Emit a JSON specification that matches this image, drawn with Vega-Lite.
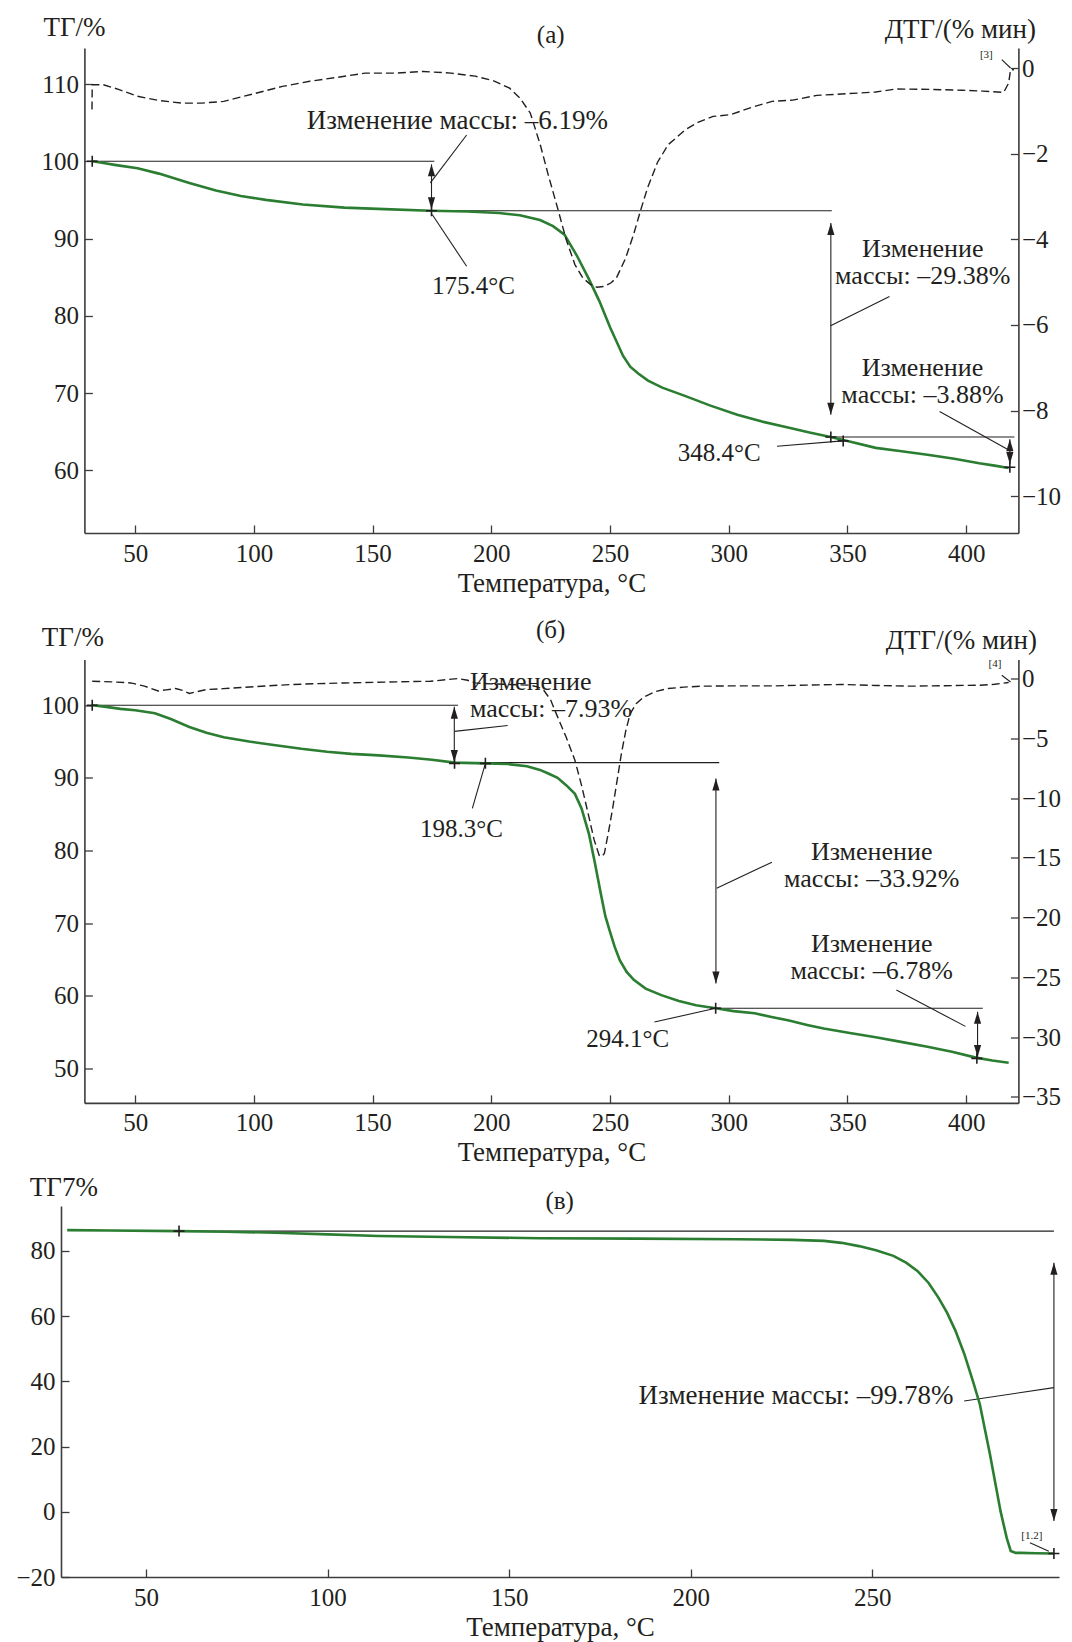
{
  "$schema": "https://vega.github.io/schema/vega-lite/v6.json",
  "background": "white",
  "padding": {"left": 15, "top": 13, "right": 5, "bottom": 5},
  "config": {
    "font": "Liberation Serif",
    "view": {"stroke": null},
    "axis": {"grid": false, "domainColor": "#3c3c3c", "domainWidth": 1.6, "tickColor": "#3c3c3c", "tickWidth": 1.3, "tickSize": -8, "labelFont": "Liberation Serif", "labelFontSize": 25, "labelColor": "#231f20", "titleFont": "Liberation Serif", "titleFontSize": 27, "titleFontWeight": "normal", "titleColor": "#231f20"},
    "axisX": {"labelPadding": 16, "titlePadding": 4},
    "axisLeft": {"labelPadding": 14},
    "axisRight": {"labelPadding": 11}
  },
  "datasets": {
    "tgA": [
      {"T":31.9,"v":100},{"T":36,"v":99.8},{"T":42,"v":99.5},{"T":51,"v":99.1},{"T":60,"v":98.4},{"T":72.8,"v":97.2},{"T":84,"v":96.2},{"T":94.5,"v":95.5},{"T":105,"v":95.0},{"T":120.6,"v":94.4},{"T":138.1,"v":94.0},{"T":155,"v":93.8},{"T":174.3,"v":93.6},{"T":190,"v":93.5},{"T":203.3,"v":93.3},{"T":212,"v":93.0},{"T":220.5,"v":92.4},{"T":226,"v":91.6},{"T":230.8,"v":90.5},{"T":236,"v":87.8},{"T":241,"v":84.8},{"T":245.5,"v":81.9},{"T":250,"v":78.5},{"T":255.5,"v":74.8},{"T":258.5,"v":73.4},{"T":262,"v":72.5},{"T":266,"v":71.6},{"T":272,"v":70.7},{"T":281.8,"v":69.6},{"T":292,"v":68.4},{"T":303.6,"v":67.2},{"T":314,"v":66.3},{"T":325.4,"v":65.5},{"T":334,"v":64.9},{"T":342.9,"v":64.3},{"T":350,"v":63.8},{"T":361.9,"v":62.9},{"T":372,"v":62.5},{"T":383.7,"v":62.0},{"T":395,"v":61.5},{"T":405.5,"v":60.9},{"T":412,"v":60.6},{"T":417.9,"v":60.3}
    ],
    "dtgA": [
      {"T":31.8,"v":-0.97},{"T":31.9,"v":-0.39},{"T":36.5,"v":-0.39},{"T":43,"v":-0.5},{"T":51,"v":-0.66},{"T":60,"v":-0.76},{"T":69.9,"v":-0.82},{"T":78,"v":-0.82},{"T":87.3,"v":-0.78},{"T":100,"v":-0.6},{"T":112,"v":-0.43},{"T":123.5,"v":-0.31},{"T":135,"v":-0.22},{"T":146.8,"v":-0.12},{"T":160,"v":-0.12},{"T":171.4,"v":-0.08},{"T":183,"v":-0.12},{"T":193.2,"v":-0.19},{"T":201,"v":-0.3},{"T":207.7,"v":-0.47},{"T":212,"v":-0.7},{"T":216.4,"v":-1.05},{"T":220.6,"v":-1.79},{"T":224,"v":-2.5},{"T":227.9,"v":-3.27},{"T":231.5,"v":-4.0},{"T":235.2,"v":-4.59},{"T":238.5,"v":-4.9},{"T":241.7,"v":-5.05},{"T":244.5,"v":-5.12},{"T":247.6,"v":-5.10},{"T":250.3,"v":-5.02},{"T":252.7,"v":-4.9},{"T":256.5,"v":-4.45},{"T":259.9,"v":-3.89},{"T":263,"v":-3.3},{"T":265.8,"v":-2.8},{"T":270,"v":-2.2},{"T":274.5,"v":-1.79},{"T":281.8,"v":-1.44},{"T":287,"v":-1.27},{"T":293.4,"v":-1.13},{"T":300.7,"v":-1.09},{"T":309,"v":-0.93},{"T":318.2,"v":-0.78},{"T":326.9,"v":-0.75},{"T":337.1,"v":-0.64},{"T":350,"v":-0.6},{"T":361.9,"v":-0.56},{"T":370.6,"v":-0.49},{"T":385,"v":-0.5},{"T":398.3,"v":-0.52},{"T":407,"v":-0.54},{"T":415.8,"v":-0.57},{"T":417.9,"v":-0.35},{"T":418.7,"v":-0.04},{"T":420.1,"v":-0.04}
    ],
    "segA": [
      {"T":31.9,"v":100,"T2":176,"v2":100},
      {"T":174.8,"v":93.6,"T2":343.4,"v2":93.6},
      {"T":343,"v":64.3,"T2":420.3,"v2":64.3},
      {"T":174.8,"v":99.6,"T2":174.8,"v2":93.8},
      {"T":343,"v":92.0,"T2":343,"v2":67.2},
      {"T":418.4,"v":64.0,"T2":418.4,"v2":60.8},
      {"T":189.6,"v":103.4,"T2":174.3,"v2":97.2},
      {"T":175.1,"v":93.1,"T2":189.6,"v2":86.4},
      {"T":367.7,"v":82.5,"T2":342.9,"v2":78.7},
      {"T":388.8,"v":67.6,"T2":418.7,"v2":62.5},
      {"T":320.3,"v":63.1,"T2":348.0,"v2":63.8},
      {"T":415.0,"v":113.16,"T2":418.7,"v2":112.07}
    ],
    "headA": [
      {"T":174.8,"v":99.6,"dir":"up"},{"T":174.8,"v":93.8,"dir":"down"},
      {"T":343,"v":92.0,"dir":"up"},{"T":343,"v":67.2,"dir":"down"},
      {"T":418.4,"v":64.0,"dir":"up"},{"T":418.4,"v":60.8,"dir":"down"}
    ],
    "crossA": [
      {"T":31.9,"v":100},{"T":174.8,"v":93.6},{"T":343,"v":64.3},{"T":348.2,"v":63.8},{"T":418.4,"v":60.4}
    ],
    "txtA1": [
      {"T":185.7,"v":105.2,"label":"Изменение массы: –6.19%"}
    ],
    "txtA": [
      {"T":381.7,"v":88.6,"label":"Изменение\nмассы: –29.38%"},
      {"T":381.6,"v":73.2,"label":"Изменение\nмассы: –3.88%"}
    ],
    "degA": [
      {"T":192.5,"v":83.8,"label":"175.4°C"},
      {"T":296,"v":62.2,"label":"348.4°C"},
      {"T":225,"v":116.4,"label":"(а)"}
    ],
    "smallA": [{"T":408.5,"v":113.8,"label":"[3]"}],
    "tgB": [
      {"T":31.9,"v":100},{"T":37,"v":99.8},{"T":43.8,"v":99.5},{"T":50,"v":99.3},{"T":58.3,"v":98.9},{"T":65,"v":98.1},{"T":72.8,"v":97.0},{"T":80,"v":96.2},{"T":87.3,"v":95.6},{"T":98,"v":95.0},{"T":109.1,"v":94.5},{"T":120,"v":94.0},{"T":130.8,"v":93.6},{"T":141,"v":93.3},{"T":152.6,"v":93.1},{"T":165,"v":92.8},{"T":175,"v":92.5},{"T":184.5,"v":92.1},{"T":197.5,"v":92.0},{"T":207,"v":91.9},{"T":215,"v":91.6},{"T":220.5,"v":91.1},{"T":224,"v":90.6},{"T":227.9,"v":90.0},{"T":231.5,"v":89.0},{"T":235.2,"v":87.8},{"T":238,"v":85.8},{"T":241.1,"v":82.3},{"T":243.5,"v":78.5},{"T":246.1,"v":74.1},{"T":248,"v":71.0},{"T":249.8,"v":69.0},{"T":252,"v":66.7},{"T":254.1,"v":64.9},{"T":257,"v":63.3},{"T":260,"v":62.2},{"T":265,"v":61.0},{"T":271.6,"v":60.1},{"T":279,"v":59.3},{"T":286.2,"v":58.7},{"T":294.5,"v":58.3},{"T":302,"v":57.9},{"T":310.9,"v":57.6},{"T":318,"v":57.1},{"T":325.4,"v":56.6},{"T":333,"v":56.0},{"T":340,"v":55.5},{"T":351,"v":54.9},{"T":361.9,"v":54.3},{"T":372,"v":53.7},{"T":383.7,"v":53.0},{"T":394,"v":52.3},{"T":404.1,"v":51.5},{"T":411,"v":51.1},{"T":417.9,"v":50.8}
    ],
    "dtgB": [
      {"T":31.9,"v":-0.23},{"T":40,"v":-0.28},{"T":48.1,"v":-0.37},{"T":53.9,"v":-0.64},{"T":59.7,"v":-1.04},{"T":63,"v":-0.95},{"T":67,"v":-0.84},{"T":70,"v":-1.0},{"T":72.8,"v":-1.25},{"T":76,"v":-1.1},{"T":80,"v":-0.92},{"T":87,"v":-0.85},{"T":94.5,"v":-0.75},{"T":105,"v":-0.62},{"T":116.3,"v":-0.5},{"T":127,"v":-0.43},{"T":138.1,"v":-0.37},{"T":155,"v":-0.3},{"T":174.3,"v":-0.23},{"T":181,"v":-0.1},{"T":186,"v":0},{"T":190,"v":-0.15},{"T":193.2,"v":-0.37},{"T":200,"v":-0.45},{"T":208,"v":-0.5},{"T":216.3,"v":-0.56},{"T":219.5,"v":-0.7},{"T":222.1,"v":-0.98},{"T":225,"v":-1.8},{"T":227.9,"v":-3.21},{"T":231.5,"v":-4.9},{"T":235.2,"v":-6.83},{"T":238.2,"v":-9.1},{"T":241.1,"v":-11.58},{"T":243.3,"v":-13.5},{"T":245.4,"v":-14.78},{"T":246.5,"v":-14.9},{"T":247.6,"v":-14.64},{"T":249.3,"v":-12.9},{"T":251.2,"v":-10.74},{"T":253,"v":-8.5},{"T":254.8,"v":-6.27},{"T":256.6,"v":-4.4},{"T":258.5,"v":-2.93},{"T":261,"v":-2.1},{"T":264.3,"v":-1.54},{"T":269,"v":-1.1},{"T":274.5,"v":-0.84},{"T":281,"v":-0.72},{"T":289,"v":-0.64},{"T":300,"v":-0.62},{"T":318.2,"v":-0.62},{"T":333,"v":-0.55},{"T":347.3,"v":-0.5},{"T":362,"v":-0.58},{"T":376.4,"v":-0.64},{"T":391,"v":-0.6},{"T":405.6,"v":-0.56},{"T":412,"v":-0.48},{"T":417.9,"v":-0.33}
    ],
    "segB": [
      {"T":31.9,"v":100,"T2":186,"v2":100},
      {"T":184.5,"v":92.1,"T2":296,"v2":92.1},
      {"T":294.5,"v":58.3,"T2":407,"v2":58.3},
      {"T":184.4,"v":99.8,"T2":184.4,"v2":92.2},
      {"T":294.6,"v":89.9,"T2":294.6,"v2":61.7},
      {"T":404.8,"v":57.8,"T2":404.8,"v2":51.6},
      {"T":206.9,"v":97.2,"T2":184.5,"v2":96.4},
      {"T":197.5,"v":92.0,"T2":192,"v2":85.8},
      {"T":318.2,"v":78.4,"T2":294.9,"v2":74.8},
      {"T":370.6,"v":60.8,"T2":399.7,"v2":55.8},
      {"T":268.7,"v":56.4,"T2":294.5,"v2":58.3},
      {"T":415.0,"v":104.13,"T2":418.7,"v2":103.2}
    ],
    "headB": [
      {"T":184.4,"v":99.8,"dir":"up"},{"T":184.4,"v":92.2,"dir":"down"},
      {"T":294.6,"v":89.9,"dir":"up"},{"T":294.6,"v":61.7,"dir":"down"},
      {"T":404.8,"v":57.8,"dir":"up"},{"T":404.8,"v":51.6,"dir":"down"}
    ],
    "crossB": [
      {"T":31.9,"v":100},{"T":184.5,"v":92.0},{"T":197.5,"v":92.0},{"T":294.5,"v":58.3},{"T":404.5,"v":51.4}
    ],
    "txtB": [
      {"T":360.2,"v":79.8,"label":"Изменение\nмассы: –33.92%"},
      {"T":360.2,"v":67.2,"label":"Изменение\nмассы: –6.78%"}
    ],
    "txtBleft": [
      {"T":191,"v":103.2,"label":"Изменение\nмассы: –7.93%"}
    ],
    "degB": [
      {"T":187.4,"v":83.0,"label":"198.3°C"},
      {"T":257.4,"v":54.1,"label":"294.1°C"},
      {"T":225,"v":110.3,"label":"(б)"}
    ],
    "smallB": [{"T":412.1,"v":105.7,"label":"[4]"}],
    "tgC": [
      {"T":28.3,"v":86.4},{"T":40,"v":86.3},{"T":59.1,"v":86.1},{"T":72,"v":85.9},{"T":85.7,"v":85.6},{"T":100,"v":85.1},{"T":114.1,"v":84.6},{"T":133.1,"v":84.3},{"T":158.5,"v":83.9},{"T":185,"v":83.8},{"T":212.9,"v":83.6},{"T":228,"v":83.4},{"T":236.7,"v":83.1},{"T":241.5,"v":82.5},{"T":246.3,"v":81.5},{"T":251,"v":80.2},{"T":255.8,"v":78.5},{"T":259.3,"v":76.4},{"T":262.4,"v":73.9},{"T":265.5,"v":70.2},{"T":268.2,"v":65.7},{"T":270.6,"v":61},{"T":272.9,"v":55.5},{"T":275.3,"v":48.5},{"T":277.7,"v":40.1},{"T":279.6,"v":33.0},{"T":282.4,"v":17.6},{"T":285.3,"v":0.2},{"T":287,"v":-8},{"T":288.1,"v":-12.0},{"T":289.5,"v":-12.6},{"T":291,"v":-12.6},{"T":295,"v":-12.7},{"T":299.6,"v":-12.8},{"T":300,"v":-12.8}
    ],
    "segC": [
      {"T":59.1,"v":86.1,"T2":300,"v2":86.1},
      {"T":300,"v":76.4,"T2":300,"v2":-2.8},
      {"T":275.3,"v":34.0,"T2":300,"v2":38.1},
      {"T":293.4,"v":-9.5,"T2":298.6,"v2":-12.1}
    ],
    "headC": [
      {"T":300,"v":76.4,"dir":"up"},{"T":300,"v":-2.8,"dir":"down"}
    ],
    "crossC": [
      {"T":59.1,"v":86.1},{"T":300,"v":-12.8}
    ],
    "txtC": [
      {"T":229,"v":35.5,"label":"Изменение массы: –99.78%"}
    ],
    "degC": [
      {"T":163.9,"v":95.3,"label":"(в)"}
    ],
    "smallC": [{"T":293.9,"v":-7.4,"label":"[1.2]"}]
  },
  "spacing": 21.5,
  "resolve": {"scale": {"x": "independent", "y": "independent", "shape": "independent"}},
  "vconcat": [
    {
      "width": 957.4,
      "height": 485,
      "encoding": {
        "x": {"field": "T", "type": "quantitative",
          "scale": {"domain": [28.6, 422], "range": [23.4, 957.4], "nice": false, "zero": false},
          "axis": {"values": [50,100,150,200,250,300,350,400], "title": "Температура, °C"}}
      },
      "layer": [
        {
          "encoding": {"y": {"field": "v", "type": "quantitative",
            "scale": {"domain": [51.88, 114.66], "nice": false, "zero": false},
            "axis": {"orient": "left", "offset": -23.4, "values": [60,70,80,90,100,110], "title": "ТГ/%", "titleAngle": 0, "titleAlign": "left", "titleBaseline": "middle", "titleX": -41.4, "titleY": -20.9}}},
          "layer": [
            {"data": {"name": "segA"}, "mark": {"type": "rule", "color": "#231f20", "strokeWidth": 1.1}, "encoding": {"x2": {"field": "T2"}, "y2": {"field": "v2"}}},
            {"data": {"name": "tgA"}, "mark": {"type": "line", "color": "#2a7d31", "strokeWidth": 2.6}},
            {"data": {"name": "headA"}, "mark": {"type": "point", "filled": true, "color": "#231f20", "size": 144, "opacity": 1},
              "encoding": {"shape": {"field": "dir", "type": "nominal", "scale": {"domain": ["up", "down"], "range": ["M0,0L-0.6,2L0.6,2Z", "M0,0L-0.6,-2L0.6,-2Z"]}, "legend": null}}},
            {"data": {"name": "crossA"}, "mark": {"type": "point", "shape": "M-1,0L1,0M0,-1L0,1", "size": 121, "color": "#231f20", "strokeWidth": 1.6, "filled": false, "opacity": 1}},
            {"data": {"name": "txtA1"}, "mark": {"type": "text", "font": "Liberation Serif", "fontSize": 27, "color": "#231f20", "align": "center", "baseline": "middle"}, "encoding": {"text": {"field": "label"}}},
            {"data": {"name": "txtA"}, "mark": {"type": "text", "font": "Liberation Serif", "fontSize": 26, "lineBreak": "\n", "lineHeight": 27, "color": "#231f20", "align": "center", "baseline": "middle"}, "encoding": {"text": {"field": "label"}}},
            {"data": {"name": "degA"}, "mark": {"type": "text", "font": "Liberation Serif", "fontSize": 25, "color": "#231f20", "align": "center", "baseline": "middle"}, "encoding": {"text": {"field": "label"}}},
            {"data": {"name": "smallA"}, "mark": {"type": "text", "font": "Liberation Serif", "fontSize": 11, "color": "#231f20", "align": "center", "baseline": "middle"}, "encoding": {"text": {"field": "label"}}}
          ]
        },
        {
          "encoding": {"y": {"field": "v", "type": "quantitative",
            "scale": {"domain": [-10.857, 0.467], "nice": false, "zero": false},
            "axis": {"orient": "right", "values": [0,-2,-4,-6,-8,-10], "title": "ДТГ/(% мин)", "titleAngle": 0, "titleAlign": "right", "titleBaseline": "middle", "titleX": 17, "titleY": -18.4}}},
          "layer": [
            {"data": {"name": "dtgA"}, "mark": {"type": "line", "color": "#231f20", "strokeWidth": 1.4, "strokeDash": [8, 4]}}
          ]
        }
      ],
      "resolve": {"scale": {"y": "independent"}}
    },
    {
      "spacing": 6.5,
      "resolve": {"scale": {"x": "independent", "y": "independent", "shape": "independent"}},
      "vconcat": [
        {
          "width": 957.4,
          "height": 443.4,
          "encoding": {
            "x": {"field": "T", "type": "quantitative",
              "scale": {"domain": [28.6, 422], "range": [23.4, 957.4], "nice": false, "zero": false},
              "axis": {"values": [50,100,150,200,250,300,350,400], "title": "Температура, °C"}}
          },
          "layer": [
            {
              "encoding": {"y": {"field": "v", "type": "quantitative",
                "scale": {"domain": [45.27, 106.29], "nice": false, "zero": false},
                "axis": {"orient": "left", "offset": -23.4, "values": [50,60,70,80,90,100], "title": "ТГ/%", "titleAngle": 0, "titleAlign": "left", "titleBaseline": "middle", "titleX": -43.1, "titleY": -21.8}}},
              "layer": [
                {"data": {"name": "segB"}, "mark": {"type": "rule", "color": "#231f20", "strokeWidth": 1.1}, "encoding": {"x2": {"field": "T2"}, "y2": {"field": "v2"}}},
                {"data": {"name": "tgB"}, "mark": {"type": "line", "color": "#2a7d31", "strokeWidth": 2.6}},
                {"data": {"name": "headB"}, "mark": {"type": "point", "filled": true, "color": "#231f20", "size": 144, "opacity": 1},
                  "encoding": {"shape": {"field": "dir", "type": "nominal", "scale": {"domain": ["up", "down"], "range": ["M0,0L-0.6,2L0.6,2Z", "M0,0L-0.6,-2L0.6,-2Z"]}, "legend": null}}},
                {"data": {"name": "crossB"}, "mark": {"type": "point", "shape": "M-1,0L1,0M0,-1L0,1", "size": 121, "color": "#231f20", "strokeWidth": 1.6, "filled": false, "opacity": 1}},
                {"data": {"name": "txtB"}, "mark": {"type": "text", "font": "Liberation Serif", "fontSize": 26, "lineBreak": "\n", "lineHeight": 27.5, "color": "#231f20", "align": "center", "baseline": "middle"}, "encoding": {"text": {"field": "label"}}},
                {"data": {"name": "txtBleft"}, "mark": {"type": "text", "font": "Liberation Serif", "fontSize": 26, "lineBreak": "\n", "lineHeight": 27, "color": "#231f20", "align": "left", "baseline": "middle"}, "encoding": {"text": {"field": "label"}}},
                {"data": {"name": "degB"}, "mark": {"type": "text", "font": "Liberation Serif", "fontSize": 25, "color": "#231f20", "align": "center", "baseline": "middle"}, "encoding": {"text": {"field": "label"}}},
                {"data": {"name": "smallB"}, "mark": {"type": "text", "font": "Liberation Serif", "fontSize": 11, "color": "#231f20", "align": "center", "baseline": "middle"}, "encoding": {"text": {"field": "label"}}}
              ]
            },
            {
              "encoding": {"y": {"field": "v", "type": "quantitative",
                "scale": {"domain": [-35.5, 1.59], "nice": false, "zero": false},
                "axis": {"orient": "right", "values": [0,-5,-10,-15,-20,-25,-30,-35], "title": "ДТГ/(% мин)", "titleAngle": 0, "titleAlign": "right", "titleBaseline": "middle", "titleX": 18, "titleY": -19.3}}},
              "layer": [
                {"data": {"name": "dtgB"}, "mark": {"type": "line", "color": "#231f20", "strokeWidth": 1.4, "strokeDash": [8, 4]}}
              ]
            }
          ],
          "resolve": {"scale": {"y": "independent"}}
        },
        {
          "width": 998,
          "height": 371,
          "encoding": {
            "x": {"field": "T", "type": "quantitative",
              "scale": {"domain": [26.6, 301.4], "nice": false, "zero": false},
              "axis": {"values": [50,100,150,200,250], "title": "Температура, °C"}},
            "y": {"field": "v", "type": "quantitative",
              "scale": {"domain": [-20, 93.8], "nice": false, "zero": false},
              "axis": {"orient": "left", "values": [-20,0,20,40,60,80], "title": "ТГ7%", "titleAngle": 0, "titleAlign": "left", "titleBaseline": "middle", "titleX": -31.7, "titleY": -18.5}}
          },
          "layer": [
            {"data": {"name": "segC"}, "mark": {"type": "rule", "color": "#231f20", "strokeWidth": 1.1}, "encoding": {"x2": {"field": "T2"}, "y2": {"field": "v2"}}},
            {"data": {"name": "tgC"}, "mark": {"type": "line", "color": "#2a7d31", "strokeWidth": 2.6}},
            {"data": {"name": "headC"}, "mark": {"type": "point", "filled": true, "color": "#231f20", "size": 144, "opacity": 1},
              "encoding": {"shape": {"field": "dir", "type": "nominal", "scale": {"domain": ["up", "down"], "range": ["M0,0L-0.6,2L0.6,2Z", "M0,0L-0.6,-2L0.6,-2Z"]}, "legend": null}}},
            {"data": {"name": "crossC"}, "mark": {"type": "point", "shape": "M-1,0L1,0M0,-1L0,1", "size": 121, "color": "#231f20", "strokeWidth": 1.6, "filled": false, "opacity": 1}},
            {"data": {"name": "txtC"}, "mark": {"type": "text", "font": "Liberation Serif", "fontSize": 27, "color": "#231f20", "align": "center", "baseline": "middle"}, "encoding": {"text": {"field": "label"}}},
            {"data": {"name": "degC"}, "mark": {"type": "text", "font": "Liberation Serif", "fontSize": 25, "color": "#231f20", "align": "center", "baseline": "middle"}, "encoding": {"text": {"field": "label"}}},
            {"data": {"name": "smallC"}, "mark": {"type": "text", "font": "Liberation Serif", "fontSize": 11, "color": "#231f20", "align": "center", "baseline": "middle"}, "encoding": {"text": {"field": "label"}}}
          ]
        }
      ]
    }
  ]
}
